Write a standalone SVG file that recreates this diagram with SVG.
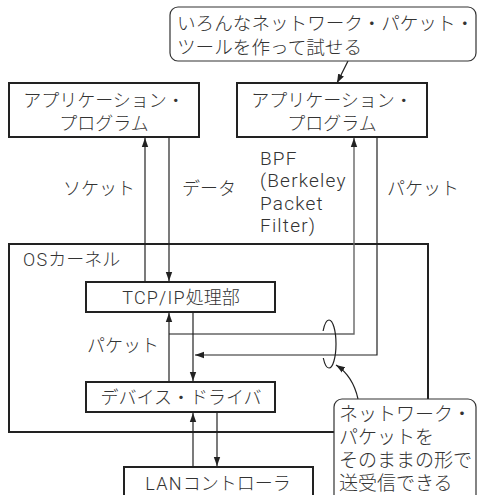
<svg xmlns="http://www.w3.org/2000/svg" width="478" height="495" viewBox="0 0 478 495">
<defs>
<style>
text{font-family:"Roboto","Liberation Sans","Noto Sans CJK JP",sans-serif;font-size:18px;font-weight:300;fill:#333;}
.c{text-anchor:middle;}
.lat{letter-spacing:1.2px;}
.bpf{font-size:19px;letter-spacing:1.2px;}
.box{fill:#fff;stroke:#222;stroke-width:2;}
.call{fill:#fff;stroke:#333;stroke-width:1.2;}
.ln{fill:none;stroke:#222;stroke-width:1.2;}
.gr{fill:none;stroke:#666;stroke-width:1.4;}
</style>
<marker id="ah" markerWidth="10" markerHeight="8" refX="9" refY="4" orient="auto" markerUnits="userSpaceOnUse">
<path d="M0,0.8 L9,4 L0,7.2 Z" fill="#222"/>
</marker>
</defs>

<g id="kernel">
<rect class="box" x="9" y="244" width="419" height="188"/>
<text x="23" y="266"><tspan class="lat">OS</tspan>カーネル</text>
</g>

<g id="app-left">
<rect class="box" x="9" y="83" width="190" height="54"/>
<text class="c" x="104" y="107">アプリケーション・</text>
<text class="c" x="104" y="130">プログラム</text>
</g>

<g id="app-right">
<rect class="box" x="237" y="83" width="190" height="54"/>
<text class="c" x="332" y="107">アプリケーション・</text>
<text class="c" x="332" y="130">プログラム</text>
</g>

<g id="tcpip">
<rect class="box" x="86" y="282" width="189" height="30"/>
<text class="c" x="181" y="304"><tspan class="lat">TCP/IP</tspan>処理部</text>
</g>

<g id="driver">
<rect class="box" x="86" y="382" width="189" height="30"/>
<text class="c" x="181" y="404">デバイス・ドライバ</text>
</g>

<g id="lan">
<rect class="box" x="124" y="467" width="189" height="40"/>
<text class="c" x="218" y="490"><tspan class="lat">LAN</tspan>コントローラ</text>
</g>

<g id="labels">
<text x="63" y="195">ソケット</text>
<text x="182" y="195">データ</text>
<text class="bpf" x="260" y="165">BPF</text>
<text class="bpf" x="260" y="187">(Berkeley</text>
<text class="bpf" x="260" y="210">Packet</text>
<text class="bpf" x="260" y="232">Filter)</text>
<text x="387" y="195">パケット</text>
<text x="87" y="352">パケット</text>
</g>

<g id="connectors">
<line class="ln" x1="145" y1="282" x2="145" y2="138" marker-end="url(#ah)"/>
<line class="ln" x1="169" y1="137" x2="169" y2="281" marker-end="url(#ah)"/>
<path class="gr" d="M169,334 H354 V138" marker-end="url(#ah)"/>
<path class="ln" d="M377,137 V355 H195" marker-end="url(#ah)"/>
<line class="ln" x1="169" y1="382" x2="169" y2="313" marker-end="url(#ah)"/>
<line class="ln" x1="193" y1="312" x2="193" y2="381" marker-end="url(#ah)"/>
<line class="ln" x1="193" y1="467" x2="193" y2="413" marker-end="url(#ah)"/>
<line class="ln" x1="217" y1="412" x2="217" y2="466" marker-end="url(#ah)"/>
<path class="ln" d="M329,320 A7,24 0 0 1 329,368"/>
<path class="ln" d="M329,320 A7,24 0 0 0 323.1,331"/>
<path class="ln" d="M323.3,358 A7,24 0 0 0 329,368"/>
<line class="ln" x1="348" y1="61" x2="337" y2="83" marker-end="url(#ah)"/>
<path class="ln" d="M358,399 Q353,376 336,365" marker-end="url(#ah)"/>
</g>

<g id="callout-top">
<rect class="call" x="170" y="7" width="306" height="54" rx="8"/>
<text x="177" y="30" style="font-size:18.6px">いろんなネットワーク・パケット・</text>
<text x="177" y="54" style="font-size:18.6px">ツールを作って試せる</text>
</g>

<g id="callout-bottom">
<rect class="call" x="334" y="399" width="142" height="110" rx="8"/>
<text x="339" y="421" style="font-size:19px">ネットワーク・</text>
<text x="339" y="444" style="font-size:19px">パケットを</text>
<text x="339" y="467" style="font-size:19px">そのままの形で</text>
<text x="339" y="490" style="font-size:19px">送受信できる</text>
</g>
</svg>
